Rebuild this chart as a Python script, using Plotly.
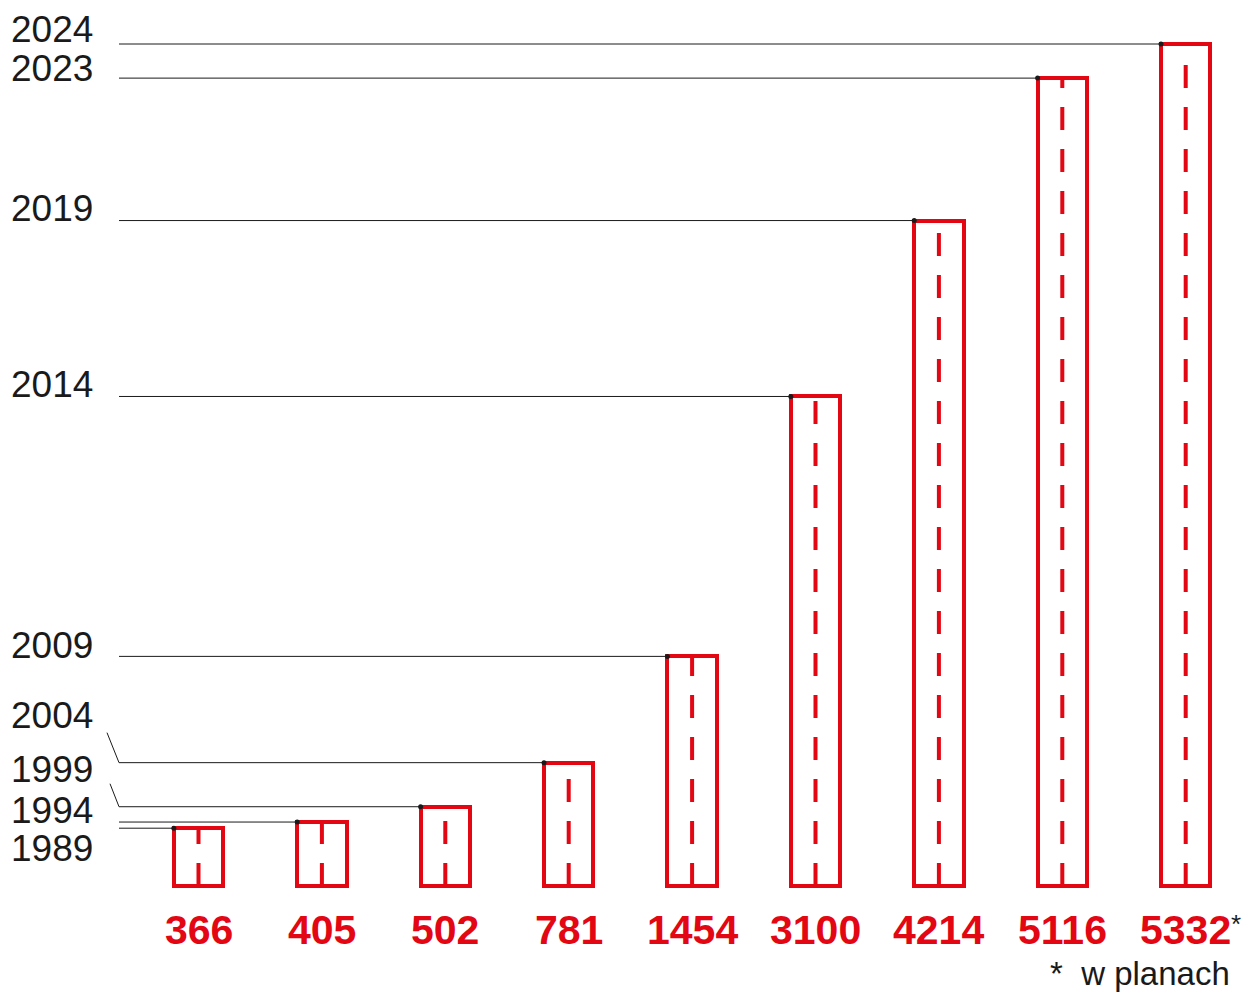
import plotly.graph_objects as go

# ---- data ----
years = ["1989", "1994", "1999", "2004", "2009", "2014", "2019", "2023", "2024"]
values = [366, 405, 502, 781, 1454, 3100, 4214, 5116, 5332]
value_labels = ["366", "405", "502", "781", "1454", "3100", "4214", "5116", "5332"]
footnote = "*  w planach"

# ---- layout / style ----
W, H = 1244, 993
RED = "#e30613"
INK = "#1a1a1a"
X0_PX, DX_PX = 198.5, 123.4          # bar centre pixel and spacing
Y0_PX, SCALE = 886.0, 842.0 / 5332.0  # baseline pixel, px per unit

x_range = [(0 - X0_PX) / DX_PX, (W - X0_PX) / DX_PX]
y_range = [(Y0_PX - H) / SCALE, Y0_PX / SCALE]


def px_to_x(px):
    return (px - X0_PX) / DX_PX


def dpx_to_y(dpx):
    return -dpx / SCALE


bar_w = 0.40
label_dy_px = [20, -12, -37, -47, -11, -12, -12, -10, -15]   # year label offset from its line
kink_px = [None, None, (-9, -23), (-12, -30), None, None, None, None, None]
leader_x_px = 119

xs = list(range(len(values)))
fig = go.Figure()

# bars (outlined)
fig.add_trace(go.Bar(
    x=xs, y=values, width=bar_w,
    marker=dict(color="white", line=dict(color=RED, width=4)),
    hoverinfo="skip", showlegend=False,
))

# dashed centre lines
for i, v in zip(xs, values):
    fig.add_trace(go.Scatter(
        x=[i, i], y=[0, v], mode="lines",
        line=dict(color=RED, width=4, dash="23px,19px"),
        hoverinfo="skip", showlegend=False,
    ))

# leader lines
lx, ly = [], []
for i, v, k in zip(xs, values, kink_px):
    if k is not None:
        lx.append(px_to_x(leader_x_px + k[0]))
        ly.append(v + dpx_to_y(k[1]))
    lx += [px_to_x(leader_x_px), i - bar_w / 2, None]
    ly += [v, v, None]
fig.add_trace(go.Scatter(x=lx, y=ly, mode="lines",
                         line=dict(color=INK, width=1),
                         hoverinfo="skip", showlegend=False))
fig.add_trace(go.Scatter(x=[i - bar_w / 2 for i in xs], y=values, mode="markers",
                         marker=dict(color=INK, size=5),
                         hoverinfo="skip", showlegend=False))

ann = []
for i, (yr, v, dy) in enumerate(zip(years, values, label_dy_px)):
    ann.append(dict(x=px_to_x(9), y=v + dpx_to_y(dy), xref="x", yref="y",
                    text=yr, showarrow=False, xanchor="left", yanchor="middle",
                    font=dict(family="Liberation Sans, Arial", size=37, color=INK)))
for i, t in zip(xs, value_labels):
    ann.append(dict(x=i, y=dpx_to_y(930 - Y0_PX), xref="x", yref="y",
                    text=f"<b>{t}</b>", showarrow=False, xanchor="center", yanchor="middle",
                    font=dict(family="Liberation Sans, Arial", size=41, color=RED)))
ann.append(dict(x=xs[-1] + px_to_x(1229) - px_to_x(1186), y=dpx_to_y(924 - Y0_PX),
                xref="x", yref="y", text="*", showarrow=False, xanchor="left", yanchor="middle",
                font=dict(family="Liberation Sans, Arial", size=26, color=INK)))
ann.append(dict(x=px_to_x(1232), y=dpx_to_y(973 - Y0_PX), xref="x", yref="y",
                text=footnote, showarrow=False, xanchor="right", yanchor="middle",
                font=dict(family="Liberation Sans, Arial", size=33, color=INK)))

fig.update_layout(
    width=W, height=H,
    margin=dict(l=0, r=0, t=0, b=0),
    paper_bgcolor="white", plot_bgcolor="white",
    xaxis=dict(range=x_range, visible=False, fixedrange=True),
    yaxis=dict(range=y_range, visible=False, fixedrange=True),
    annotations=ann,
    bargap=0,
)

fig.write_html("out.html",
               config={"displayModeBar": False},
               post_script="document.body.style.margin='0';document.body.style.overflow='hidden';")
